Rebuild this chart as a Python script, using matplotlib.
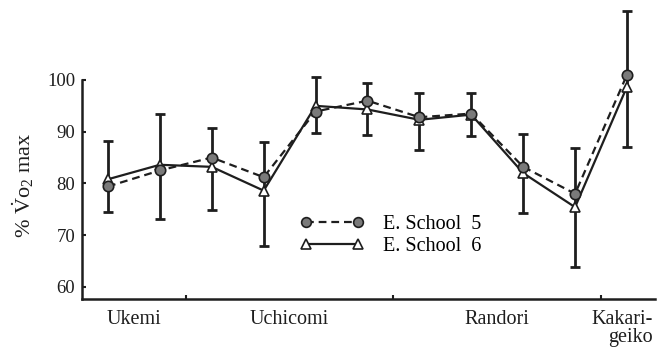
import numpy as np
import matplotlib
matplotlib.use("Agg")
import matplotlib.pyplot as plt
from matplotlib.lines import Line2D

plt.rcParams['font.family'] = ['Liberation Serif', 'DejaVu Serif']
plt.rcParams['mathtext.fontset'] = 'custom'
plt.rcParams['mathtext.rm'] = 'Liberation Serif'
plt.rcParams['mathtext.it'] = 'Liberation Serif:italic'

# measurement positions (11 bouts across the session)
positions = np.arange(1, 12)
school5 = [79.4, 82.5, 85.0, 81.2, 93.9, 96.0, 92.8, 93.5, 83.2, 78.0, 101.0]
school6 = [80.8, 83.6, 83.2, 78.6, 95.0, 94.3, 92.3, 93.3, 82.0, 75.4, 98.7]
err_upper = [88.2, 93.4, 90.7, 88.0, 100.5, 99.4, 97.4, 97.4, 89.6, 86.8, 113.3]
err_lower = [74.5, 73.2, 74.9, 67.8, 89.8, 89.4, 86.5, 89.2, 74.2, 63.9, 87.1]

phase_names = ["Ukemi", "Uchicomi", "Randori", "Kakari-\ngeiko"]
phase_centers = [1.5, 4.5, 8.5, 11.0]
phase_breaks = [2.5, 6.5, 10.5]
yticks = [60, 70, 80, 90, 100]

ink = "#1e1e1e"

fig = plt.figure(figsize=(6.63, 3.47), dpi=100)
ax = fig.add_axes([82 / 663, (347 - 298.7) / 347, (655 - 82) / 663, 291.1 / 347])

lower = np.array(err_lower)
upper = np.array(err_upper)
ax.errorbar(positions, lower, yerr=[np.zeros_like(lower), upper - lower],
            fmt="none", ecolor=ink, elinewidth=2.0, capsize=3.8, capthick=2.0,
            zorder=2)

ax.plot(positions, school6, color=ink, lw=1.6, ls="-", marker="^",
        ms=7.5, mfc="white", mec=ink, mew=1.2, zorder=3)
ax.plot(positions, school5, color=ink, lw=1.6, ls=(0, (3.5, 2.2)), marker="o",
        ms=7.5, mfc="#7a7a7a", mec=ink, mew=1.2, zorder=4)

ax.set_xlim(0.5, 11.54)
ax.set_ylim(57.7, 114)

for s in ("top", "right"):
    ax.spines[s].set_visible(False)
ax.spines["left"].set_bounds(57.7, 100)
for s in ("left", "bottom"):
    ax.spines[s].set_linewidth(1.8)
    ax.spines[s].set_color(ink)

ax.set_yticks(yticks)
ax.set_yticklabels([str(v) for v in yticks], fontsize=13.5, color=ink)
ax.tick_params(axis="y", direction="in", length=3, width=1.5, pad=5, colors=ink)

ax.set_xticks(phase_breaks)
ax.set_xticklabels([])
ax.tick_params(axis="x", direction="in", length=3, width=1.5, colors=ink)
for name, cx in zip(phase_names[:-1], phase_centers[:-1]):
    ax.text(cx, 57.7 - 2.2, name, ha="center", va="top", fontsize=14.5,
            color=ink, transform=ax.transData)
ax.text(11.5, 57.7 - 2.2, phase_names[-1], ha="right", va="top",
        multialignment="right", fontsize=14.5, color=ink, linespacing=0.9,
        transform=ax.transData)

ax.text(-0.63, 79.6, r"% $\dot{\mathrm{V}}\mathrm{o}_2$ max", rotation=90,
        ha="center", va="center", fontsize=16, color=ink,
        transform=ax.transData)

handles = [
    Line2D([], [], color=ink, lw=1.6, ls=(0, (3.5, 2.2)), marker="o", ms=7,
           mfc="#7a7a7a", mec=ink, mew=1.2),
    Line2D([], [], color=ink, lw=1.6, ls="-", marker="^", ms=7,
           mfc="white", mec=ink, mew=1.2),
]
ax.legend(handles, ["E. School  5", "E. School  6"], loc="upper left",
          bbox_to_anchor=(300 / 663, 1 - 215 / 347), bbox_transform=fig.transFigure,
          frameon=False, fontsize=14.5, numpoints=2, handlelength=3.2,
          handletextpad=0.9, labelspacing=0.15, borderaxespad=0, borderpad=0)

fig.savefig("out.png", dpi=100)
